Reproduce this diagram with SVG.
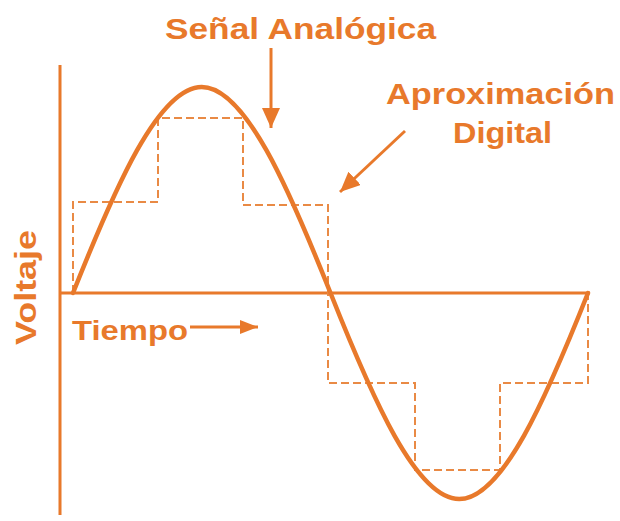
<svg xmlns="http://www.w3.org/2000/svg" width="620" height="521" viewBox="0 0 620 521">
<style>
.lbl{font-family:"Liberation Sans",Arial,sans-serif;font-weight:bold;fill:#E8792B;}
.ax{stroke:#E8792B;stroke-width:3;fill:none;}
.sig{stroke:#E8792B;stroke-width:4.5;fill:none;stroke-linecap:round;}
.dig{stroke:#E98A45;stroke-width:2;fill:none;stroke-dasharray:8 4;}
.arr{stroke:#E8792B;stroke-width:3;fill:none;}
</style>
<defs>
<marker id="ahb" viewBox="0 0 20 18" refX="20" refY="9" markerWidth="20" markerHeight="18" orient="auto" markerUnits="userSpaceOnUse">
<path d="M0,0 L20,9 L0,18 Z" fill="#E8792B"/>
</marker>
<marker id="ahs" viewBox="0 0 18 14" refX="18" refY="7" markerWidth="18" markerHeight="14" orient="auto" markerUnits="userSpaceOnUse">
<path d="M0,0 L18,7 L0,14 Z" fill="#E8792B"/>
</marker>
</defs>
<g id="axes">
<line class="ax" x1="60" y1="65" x2="60" y2="515"/>
<line class="ax" x1="60" y1="293" x2="590" y2="293"/>
</g>
<g id="digital">
<path class="dig" d="M73,293 V202 H158 V118 H243 V205 H328 V383 H415 V470 H500 V383 H588 V293"/>
</g>
<g id="analog">
<path class="sig" d="M73,293 C114.98,187.5 158.68,87 201.75,87 C244.82,87 288.52,187.5 330.5,293 C372.48,398.5 416.18,499 459.25,499 C502.32,499 546.02,398.5 588,293"/>
</g>
<g id="connectors">
<line class="arr" x1="271" y1="48" x2="271" y2="128" marker-end="url(#ahb)"/>
<line class="arr" x1="405" y1="131" x2="340" y2="192" marker-end="url(#ahb)"/>
<line class="arr" x1="190" y1="327" x2="258" y2="327" marker-end="url(#ahs)"/>
</g>
<g id="label-senal">
<text class="lbl" x="165" y="39" font-size="29" textLength="271" lengthAdjust="spacingAndGlyphs">Señal Analógica</text>
</g>
<g id="label-aprox">
<text class="lbl" x="386" y="104" font-size="30" textLength="229" lengthAdjust="spacingAndGlyphs">Aproximación</text>
<text class="lbl" x="453" y="143" font-size="30" textLength="99" lengthAdjust="spacingAndGlyphs">Digital</text>
</g>
<g id="label-voltaje">
<text class="lbl" x="0" y="0" font-size="30" textLength="115" lengthAdjust="spacingAndGlyphs" transform="translate(36,345) rotate(-90)">Voltaje</text>
</g>
<g id="label-tiempo">
<text class="lbl" x="72" y="340" font-size="28" textLength="116" lengthAdjust="spacingAndGlyphs">Tiempo</text>
</g>
</svg>
